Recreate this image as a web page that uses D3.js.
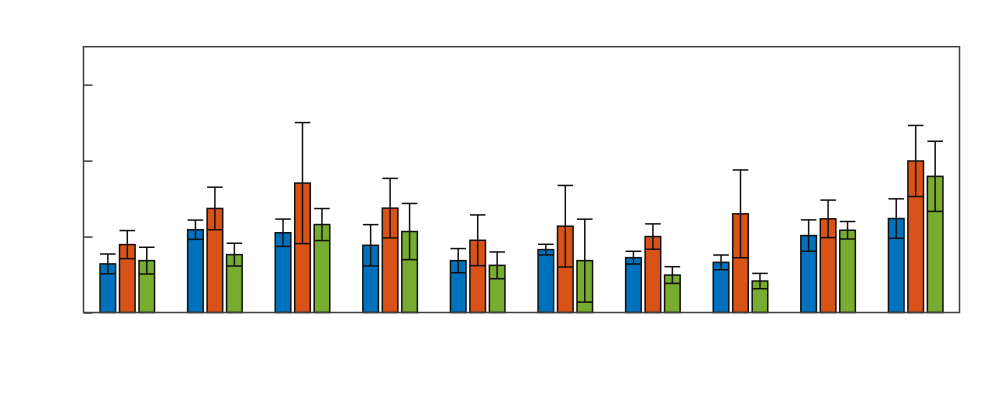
<!DOCTYPE html>
<html>
<head>
<meta charset="utf-8">
<script src="https://cdn.jsdelivr.net/npm/d3@7"></script>
<style>
  body { margin: 0; background: #fff; }
  svg { display: block; }
</style>
</head>
<body>
<svg id="chart" width="997" height="399"></svg>
<script>
const categories = [1, 2, 3, 4, 5, 6, 7, 8, 9, 10];
const seriesNames = ["A", "B", "C"];
const seriesA = [0.64, 1.09, 1.05, 0.885, 0.683, 0.828, 0.722, 0.66, 1.013, 1.237];
const seriesB = [0.894, 1.37, 1.704, 1.374, 0.951, 1.136, 1.0, 1.299, 1.233, 1.995];
const seriesC = [0.683, 0.762, 1.158, 1.066, 0.621, 0.683, 0.493, 0.414, 1.083, 1.793];
const errorA = [0.13, 0.127, 0.18, 0.272, 0.159, 0.07, 0.084, 0.097, 0.207, 0.26];
const errorB = [0.185, 0.28, 0.797, 0.392, 0.334, 0.537, 0.167, 0.578, 0.247, 0.468];
const errorC = [0.176, 0.15, 0.211, 0.37, 0.176, 0.546, 0.11, 0.101, 0.115, 0.462];
const yTicks = [0, 1, 2, 3];
const colors = ["#0072BD", "#D95319", "#77AC30"];

const values = [seriesA, seriesB, seriesC];
const errors = [errorA, errorB, errorC];

const svg = d3.select("#chart");
const plotL = 83.5, plotR = 959.5, plotT = 46.7, plotB = 312.5;

const x = d3.scaleLinear().domain([0.5, 10.5]).range([plotL, plotR]);
const y = d3.scaleLinear().domain([0, 3.5]).range([plotB, plotT]);

const groupWidth = Math.min(0.8, 3 / (3 + 1.5));
const offsetStep = groupWidth / 3;
const barW = offsetStep * 0.8;

const data = [];
values.forEach((vals, s) => {
  vals.forEach((v, i) => {
    const cx = categories[i] + (s - 1) * offsetStep;
    data.push({ s, cx, v, e: errors[s][i] });
  });
});

// bars
svg.append("g").selectAll("rect").data(data).join("rect")
  .attr("x", d => x(d.cx - barW / 2))
  .attr("width", d => x(d.cx + barW / 2) - x(d.cx - barW / 2))
  .attr("y", d => y(d.v))
  .attr("height", d => y(0) - y(d.v))
  .attr("fill", d => colors[d.s])
  .attr("stroke", "#111")
  .attr("stroke-width", 1.5);

// error bars
const eg = svg.append("g").attr("stroke", "#111").attr("stroke-width", 1.5);
data.forEach(d => {
  const cx = x(d.cx);
  const hw = (x(d.cx + barW / 2) - x(d.cx - barW / 2)) / 2;
  eg.append("line").attr("x1", cx).attr("x2", cx).attr("y1", y(d.v - d.e)).attr("y2", y(d.v + d.e));
  eg.append("line").attr("x1", cx - hw).attr("x2", cx + hw).attr("y1", y(d.v + d.e)).attr("y2", y(d.v + d.e));
  eg.append("line").attr("x1", cx - hw).attr("x2", cx + hw).attr("y1", y(d.v - d.e)).attr("y2", y(d.v - d.e));
});

// box
svg.append("rect")
  .attr("x", plotL).attr("y", plotT)
  .attr("width", plotR - plotL).attr("height", plotB - plotT)
  .attr("fill", "none").attr("stroke", "#404040").attr("stroke-width", 1.5);

// left axis with inward ticks, no labels
const yAxis = d3.axisLeft(y).tickValues(yTicks).tickSize(-9).tickFormat(() => "");
const ga = svg.append("g").attr("transform", `translate(${plotL},0)`).call(yAxis);
ga.select(".domain").remove();
ga.selectAll(".tick line").attr("stroke", "#404040").attr("stroke-width", 1.5);
</script>
</body>
</html>
